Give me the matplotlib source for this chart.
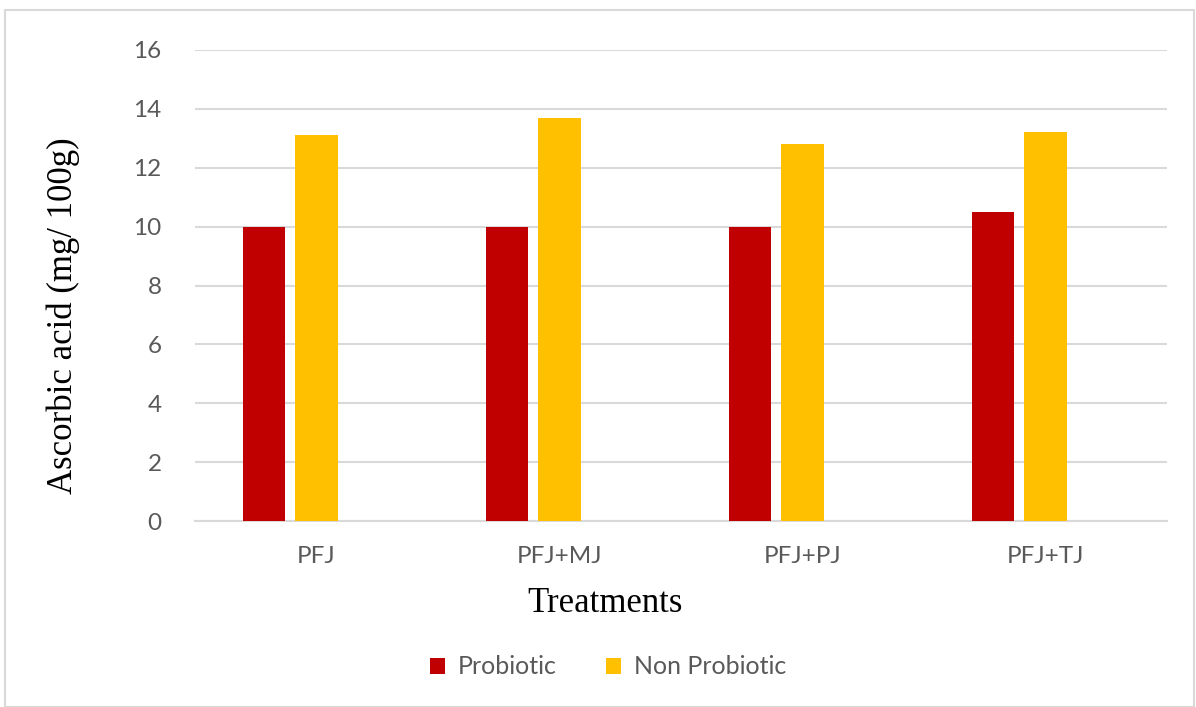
from matplotlib import pyplot as plt
from matplotlib.patches import Rectangle
import numpy as np

treatments = ["PFJ", "PFJ+MJ", "PFJ+PJ", "PFJ+TJ"]
probiotic = [10.0, 10.0, 10.0, 10.5]
non_probiotic = [13.1, 13.7, 12.8, 13.2]

fig = plt.figure(figsize=(11.96, 7.07), dpi=100)
# axes placed in pixels: left 195, right 1167, top 50, bottom 521
ax = fig.add_axes([195 / 1196, 1 - 521 / 707, 972 / 1196, 471 / 707])

x = np.arange(len(treatments))
width = 0.173
step = 0.218  # excel cluster has a third (empty) slot, so bars sit left of centre

ax.bar(x - step, probiotic, width=width, color="#C00000", label="Probiotic", zorder=3)
ax.bar(x, non_probiotic, width=width, color="#FFC000", label="Non Probiotic", zorder=3)

ax.set_xlim(-0.5, len(treatments) - 0.5)
ax.set_ylim(0, 16)
ax.set_yticks(range(0, 17, 2))
ax.set_xticks(x)
ax.set_xticklabels(treatments)

ax.grid(axis="y", color="#D9D9D9", linewidth=1.5, zorder=0)
for s in ["top", "right", "left"]:
    ax.spines[s].set_visible(False)
ax.spines["bottom"].set_color("#D9D9D9")
ax.spines["bottom"].set_linewidth(1.5)
ax.tick_params(length=0, colors="#595959", labelsize=17.5)
ax.tick_params(axis="y", pad=24)
ax.tick_params(axis="x", pad=18)
for lab in ax.get_xticklabels() + ax.get_yticklabels():
    lab.set_family("Lato")

ax.set_ylabel("Ascorbic acid (mg/ 100g)", family="Liberation Serif", fontsize=25,
              color="black")
ax.yaxis.set_label_coords(-0.118, 0.435)
ax.set_xlabel("Treatments", family="Liberation Serif", fontsize=25, color="black")
ax.xaxis.set_label_coords(0.422, -0.14)

fig.legend(loc="center", bbox_to_anchor=(608 / 1196, 1 - 667 / 707), ncol=2,
           frameon=False, prop={"family": "Lato", "size": 18},
           handlelength=0.6, handleheight=0.6, handletextpad=0.5, columnspacing=2.0,
           labelcolor="#595959")

fig.patches.append(Rectangle((5 / 1196, 0), 1189 / 1196, 1 - 10 / 707,
                             transform=fig.transFigure, fill=False,
                             edgecolor="#D9D9D9", linewidth=1.5))

fig.savefig("out.png", dpi=100)
